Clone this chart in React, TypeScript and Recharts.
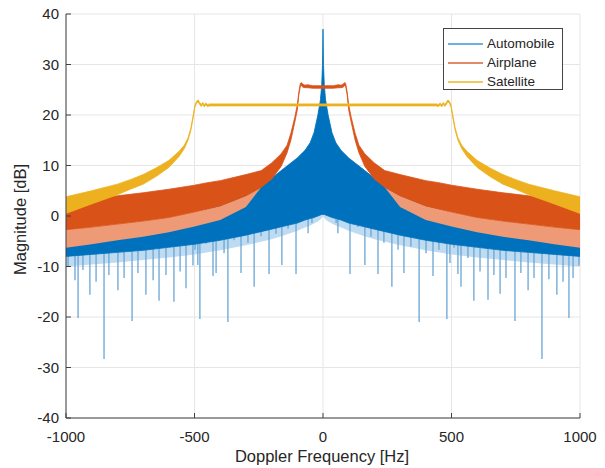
import React from 'react';
import { ComposedChart, Area, XAxis, YAxis, CartesianGrid } from 'recharts';

const FONT = '"Liberation Sans", Arial, Helvetica, sans-serif';

const xTicks = [-1000, -500, 0, 500, 1000];
const yTicks = [-40, -30, -20, -10, 0, 10, 20, 30, 40];

// Automobile (blue) envelope
const autoFreq = [-1000, -900, -800, -700, -600, -500, -400, -300, -250, -200, -150, -100, -70, -50, -35, -20, -10, -5, -2, 0, 2, 5, 10, 20, 35, 50, 70, 100, 150, 200, 250, 300, 400, 500, 600, 700, 800, 900, 1000];
const autoHigh = [-4.8, -4, -3, -2, -0.8, 0.5, 2.2, 4.2, 5.5, 7.5, 9.5, 11.5, 13, 14.5, 16.5, 20, 23, 26, 30, 37, 30, 26, 23, 20, 16.5, 14.5, 13, 11.5, 9.5, 7.5, 5.5, 4.2, 2.2, 0.5, -0.8, -2, -3, -4, -4.8];
const autoLow = [-8, -7.6, -7.2, -6.8, -6.2, -5.6, -4.8, -3.8, -3.2, -2.6, -2, -1.4, -0.8, -0.5, -0.3, 0, 0.2, 0.3, 0.3, 0.3, 0.3, 0.3, 0.2, 0, -0.3, -0.5, -0.8, -1.4, -2, -2.6, -3.2, -3.8, -4.8, -5.6, -6.2, -6.8, -7.2, -7.6, -8];
const autoMistLow = [-10, -9.6, -9.2, -8.7, -8.2, -7.6, -6.8, -5.8, -5.2, -4.6, -3.8, -2.9, -2.3, -1.9, -1.5, -1.1, -0.7, -0.4, -0.2, 0, -0.2, -0.4, -0.7, -1.1, -1.5, -1.9, -2.3, -2.9, -3.8, -4.6, -5.2, -5.8, -6.8, -7.6, -8.2, -8.7, -9.2, -9.6, -10];

// Automobile deep nulls
const autoNullFreq = [-992, -965, -953, -934, -907, -883, -852, -833, -798, -774, -743, -720, -689, -661, -638, -611, -580, -556, -533, -506, -498, -487, -479, -455, -428, -416, -385, -370, -346, -319, -292, -268, -241, -210, -183, -160, -136, -105, -78, -58, -43,
  51, 58, 78, 105, 136, 163, 187, 214, 237, 268, 292, 315, 342, 374, 401, 428, 451, 482, 494, 510, 525, 537, 564, 587, 611, 642, 665, 689, 712, 747, 770, 798, 821, 852, 879, 910, 934, 957, 973, 996];
const autoNullDepth = [-10, -12.7, -20.2, -10.7, -15.6, -13, -28.3, -11.7, -14.7, -12.3, -20.8, -11.3, -15.6, -12.7, -16.8, -11.7, -17, -11, -14.3, -9.8, -6.7, -9.7, -20.4, -5.5, -11.9, -11.3, -7.4, -21, -4.8, -11.3, -5.3, -14, -4, -11.5, -3.5, -9.7, -2.5, -11.5, -1, -3.4, -1.4,
  -1.4, -3.4, -1, -11.5, -2.2, -9.7, -4.1, -11.5, -5.3, -14, -6.7, -11.3, -6.1, -21, -7.4, -11.9, -6.7, -20.4, -9.3, -6.3, -11.5, -14, -8.3, -16.8, -11, -16.6, -11.7, -15.4, -12.3, -20.8, -11.3, -14.7, -12.3, -28.3, -12.5, -15.6, -13, -20.2, -12.3, -9.8];
const autoNullTop = [-7, -7, -7, -6.6, -6.6, -6.6, -6.6, -6.2, -6.2, -6.2, -5.8, -5.8, -5.8, -5.8, -5.2, -5.2, -5.2, -5.2, -4.6, -4.6, -4.6, -4.6, -4.6, -4.6, -3.8, -3.8, -3.8, -3.8, -2.8, -2.8, -2.8, -2.8, -1.6, -1.6, -1.6, -1.6, -0.4, -0.4, -0.4, -0.4, 0.8,
  0.8, -0.4, -0.4, -0.4, -0.4, -1.6, -1.6, -1.6, -1.6, -2.8, -2.8, -2.8, -2.8, -3.8, -3.8, -3.8, -4.6, -4.6, -4.6, -4.6, -4.6, -4.6, -5.2, -5.2, -5.2, -5.2, -5.8, -5.8, -5.8, -5.8, -6.2, -6.2, -6.2, -6.6, -6.6, -6.6, -6.6, -7, -7, -7];

// Airplane (orange)
const airFreq = [-1000, -900, -800, -700, -600, -500, -450, -400, -300, -240, -200, -163, -140, -125, -110, -100, -94, -88, -84, -78, -70, -60, -40, 0, 40, 60, 70, 78, 84, 88, 94, 100, 110, 125, 140, 163, 200, 240, 300, 400, 450, 500, 600, 700, 800, 900, 1000];
const airHigh = [2.8, 3.4, 4, 4.6, 5.3, 6.1, 6.6, 7, 8.2, 9, 10.5, 12.3, 14, 16.4, 19.5, 22, 24.5, 26.3, 26.4, 26.1, 25.9, 26.0, 25.8, 25.8, 25.8, 26.0, 25.9, 26.1, 26.4, 26.3, 24.5, 22, 19.5, 16.4, 14, 12.3, 10.5, 9, 8.2, 7, 6.6, 6.1, 5.3, 4.6, 4, 3.4, 2.8];
const airLow = [-2.7, -2.2, -1.6, -1, -0.3, 0.8, 1.4, 2, 4, 5.7, 7.3, 9.8, 12.5, 15, 18.5, 21, 24, 25.7, 25.8, 25.5, 25.4, 25.4, 25.3, 25.3, 25.3, 25.4, 25.4, 25.5, 25.8, 25.7, 24, 21, 18.5, 15, 12.5, 9.8, 7.3, 5.7, 4, 2, 1.4, 0.8, -0.3, -1, -1.6, -2.2, -2.7];
const airNullFreq = [-1000, -900, -800, -700, -600, -500, -400, -300, -240, 240, 300, 400, 500, 600, 700, 800, 900, 1000];
const airNullLow = [-6.3, -5.6, -4.8, -4.1, -3.2, -2.1, -0.8, 1.8, 5.7, 5.7, 1.8, -0.8, -2.1, -3.2, -4.1, -4.8, -5.6, -6.3];
const airNullHigh = [-2.7, -2.2, -1.6, -1, -0.3, 0.8, 2, 4, 5.7, 5.7, 4, 2, 0.8, -0.3, -1, -1.6, -2.2, -2.7];

// Satellite (yellow)
const satFreq = [-1000, -900, -800, -750, -700, -650, -600, -560, -540, -525, -514, -505, -498, -492, -486, -480, -474, -468, -462, -456, -450, -440, 0, 440, 450, 456, 462, 468, 474, 480, 486, 492, 498, 505, 514, 525, 540, 560, 600, 650, 700, 750, 800, 900, 1000];
const satHigh = [3.8, 5, 6.3, 7.2, 8.2, 9.5, 11, 12.8, 14, 15.5, 17.5, 20, 22, 22.7, 23, 22.5, 22.1, 22.5, 22.0, 22.4, 22.1, 22.2, 22.2, 22.2, 22.1, 22.4, 22.0, 22.5, 22.1, 22.5, 23, 22.7, 22, 20, 17.5, 15.5, 14, 12.8, 11, 9.5, 8.2, 7.2, 6.3, 5, 3.8];
const satLow = [0.5, 2.4, 4.2, 5.3, 6.3, 7.8, 9.6, 11.8, 13.3, 15, 17, 19.5, 21.6, 22.3, 22.6, 22.1, 21.7, 22.1, 21.6, 22.0, 21.7, 21.8, 21.8, 21.8, 21.7, 22.0, 21.6, 22.1, 21.7, 22.1, 22.6, 22.3, 21.6, 19.5, 17, 15, 13.3, 11.8, 9.6, 7.8, 6.3, 5.3, 4.2, 2.4, 0.5];

const seriesNames = ['Automobile', 'Airplane', 'Satellite'];
const legendColors = ['#6fb0e0', '#e08a66', '#f2c860'];

const autoBand = autoFreq.map((f, i) => ({ f, r: [autoLow[i], autoHigh[i]] }));
const autoMist = autoFreq.map((f, i) => ({ f, r: [autoMistLow[i], autoHigh[i]] }));
const autoNulls = autoNullFreq.flatMap((f, i) => [
  { f, r: [autoNullTop[i], autoNullTop[i]] },
  { f, r: [autoNullDepth[i], autoNullTop[i]] },
  { f, r: [autoNullTop[i], autoNullTop[i]] },
]);
const airBand = airFreq.map((f, i) => ({ f, r: [airLow[i], airHigh[i]] }));
const airNulls = airNullFreq.map((f, i) => ({ f, r: [airNullLow[i], airNullHigh[i]] }));
const satBand = satFreq.map((f, i) => ({ f, r: [satLow[i], satHigh[i]] }));

const tickStyle = { fill: '#262626', fontSize: 15, fontFamily: FONT };

export default function App() {
  return (
    <div style={{ position: 'absolute', left: 0, top: 0, width: 605, height: 468, background: '#fff', fontFamily: FONT }}>
      <ComposedChart width={605} height={468} margin={{ top: 14, right: 25, bottom: 10, left: 6 }}>
        <CartesianGrid stroke="#e6e6e6" />
        <XAxis
          dataKey="f"
          type="number"
          domain={[-1000, 1000]}
          ticks={xTicks}
          interval={0}
          allowDataOverflow
          height={40}
          tickSize={-5}
          tickMargin={18}
          axisLine={{ stroke: '#404040' }}
          tickLine={{ stroke: '#404040' }}
          tick={tickStyle}
        />
        <YAxis
          type="number"
          domain={[-40, 40]}
          ticks={yTicks}
          interval={0}
          allowDataOverflow
          width={60}
          tickSize={-5}
          tickMargin={12}
          axisLine={{ stroke: '#404040' }}
          tickLine={{ stroke: '#404040' }}
          tick={tickStyle}
        />
        <Area data={autoMist} dataKey="r" type="linear" fill="#bfdbf1" fillOpacity={1} stroke="none" isAnimationActive={false} />
        <Area data={autoNulls} dataKey="r" type="linear" fill="none" stroke="#6aa6d6" strokeWidth={1.3} dot={false} isAnimationActive={false} />
        <Area data={autoBand} dataKey="r" type="linear" fill="#0072BD" fillOpacity={1} stroke="#0072BD" strokeWidth={0.8} isAnimationActive={false} />
        <Area data={airNulls} dataKey="r" type="linear" fill="#ee9a76" fillOpacity={1} stroke="none" isAnimationActive={false} />
        <Area data={airBand} dataKey="r" type="linear" fill="#D95319" fillOpacity={1} stroke="#D95319" strokeWidth={0.8} isAnimationActive={false} />
        <Area data={satBand} dataKey="r" type="linear" fill="#EDB120" fillOpacity={1} stroke="#EDB120" strokeWidth={0.8} isAnimationActive={false} />
      </ComposedChart>

      <div style={{ position: 'absolute', left: 172, width: 300, top: 447, textAlign: 'center', fontSize: 16.5, color: '#262626', whiteSpace: 'nowrap' }}>
        Doppler Frequency [Hz]
      </div>
      <div style={{ position: 'absolute', left: 20 - 100, width: 200, top: 219 - 9, height: 19, lineHeight: '19px', textAlign: 'center', fontSize: 16.5, color: '#262626', transform: 'rotate(-90deg)', whiteSpace: 'nowrap' }}>
        Magnitude [dB]
      </div>

      <div style={{ position: 'absolute', left: 443, top: 28, width: 120, height: 62, border: '1px solid #444', background: '#fff', boxSizing: 'border-box' }}>
        {seriesNames.map((name, i) => (
          <div key={name} style={{ position: 'absolute', left: 0, top: 5 + i * 19, height: 19, width: 118 }}>
            <div style={{ position: 'absolute', left: 4, top: 9, width: 35, height: 1.5, background: legendColors[i] }} />
            <div style={{ position: 'absolute', left: 43, top: 0, lineHeight: '19px', fontSize: 13.5, color: '#262626', whiteSpace: 'nowrap' }}>{name}</div>
          </div>
        ))}
      </div>
    </div>
  );
}
